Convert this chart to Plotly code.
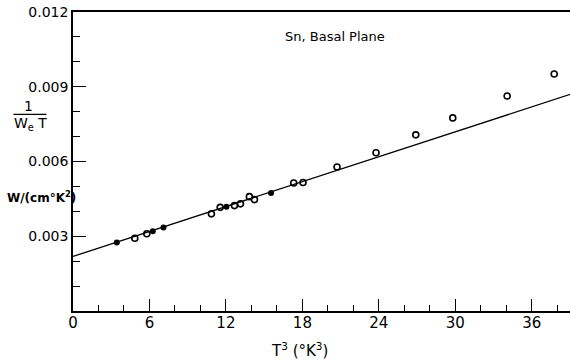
import plotly.graph_objects as go

# Data
open_x = [4.85, 5.79, 10.86, 11.55, 12.67, 13.14, 13.84, 14.24, 17.32, 18.05, 20.72, 23.78, 26.9, 29.8, 34.07, 37.76]
open_y = [0.00292, 0.00310, 0.00390, 0.00416, 0.00423, 0.00430, 0.00459, 0.00447, 0.00514, 0.00516, 0.00578, 0.00635, 0.00707, 0.00775, 0.00863, 0.00951]
filled_x = [3.44, 6.26, 7.10, 12.04, 15.54]
filled_y = [0.00275, 0.00320, 0.00335, 0.00418, 0.00474]
line_x = [0.0, 39.1]
line_y = [0.00219, 0.00871]

x_ticks = [0, 6, 12, 18, 24, 30, 36]
y_ticks = [0.003, 0.006, 0.009, 0.012]
y_ticktext = ["0.003", "0.006", "0.009", "0.012"]

FONT = "DejaVu Sans"

fig = go.Figure()
fig.add_trace(go.Scatter(x=line_x, y=line_y, mode="lines",
                         line=dict(color="black", width=1.3), showlegend=False))
fig.add_trace(go.Scatter(x=open_x, y=open_y, mode="markers",
                         marker=dict(symbol="circle-open", size=6, color="black",
                                     line=dict(width=1.6, color="black")),
                         showlegend=False))
fig.add_trace(go.Scatter(x=filled_x, y=filled_y, mode="markers",
                         marker=dict(symbol="circle", size=6, color="black"),
                         showlegend=False))

fig.update_layout(
    width=570, height=362,
    margin=dict(l=73, r=0, t=12, b=51),
    paper_bgcolor="white", plot_bgcolor="white",
    font=dict(family=FONT, size=14, color="black"),
    xaxis=dict(range=[0, 39.0], tickvals=x_ticks, ticktext=[str(v) for v in x_ticks],
               ticks="inside", ticklen=12, tickwidth=1.3, tickcolor="black",
               minor=dict(dtick=2, tick0=0, ticks="inside", ticklen=6, tickwidth=1.2, tickcolor="black"),
               showline=True, linecolor="black", linewidth=1.5, mirror=True,
               showgrid=False, zeroline=False, tickfont=dict(size=15),
               ticklabelstandoff=-3),
    yaxis=dict(range=[0, 0.012], tickvals=y_ticks, ticktext=y_ticktext,
               ticks="inside", ticklen=13, tickwidth=1.3, tickcolor="black",
               minor=dict(dtick=0.001, tick0=0, ticks="inside", ticklen=7, tickwidth=1.2, tickcolor="black"),
               showline=True, linecolor="black", linewidth=1.5,
               showgrid=False, zeroline=False, tickfont=dict(size=14)),
)

W = 570 - 73.5
H = 299.0
def px(xp):
    return (xp - 73.5) / W
def py(yp):
    return (310.7 - yp) / H

anns = [
    dict(text="Sn, Basal Plane", x=px(335), y=py(36), font=dict(size=13)),
    dict(text="1", x=px(29), y=py(106), font=dict(size=14)),
    dict(text="W<sub>e</sub> T", x=px(31), y=py(124), font=dict(size=14)),
    dict(text="<b>W/(cm°K<sup>2</sup>)</b>", x=px(42), y=py(197), font=dict(size=12)),
    dict(text="T<sup>3</sup> (°K<sup>3</sup>)", x=px(300), y=py(350), font=dict(size=15)),
]
for a in anns:
    fig.add_annotation(xref="paper", yref="paper", showarrow=False,
                       xanchor="center", yanchor="middle", **a)

fig.add_shape(type="line", xref="paper", yref="paper",
              x0=px(14), x1=px(47), y0=py(114), y1=py(114),
              line=dict(color="black", width=1.3))

fig.write_html("out.html")
